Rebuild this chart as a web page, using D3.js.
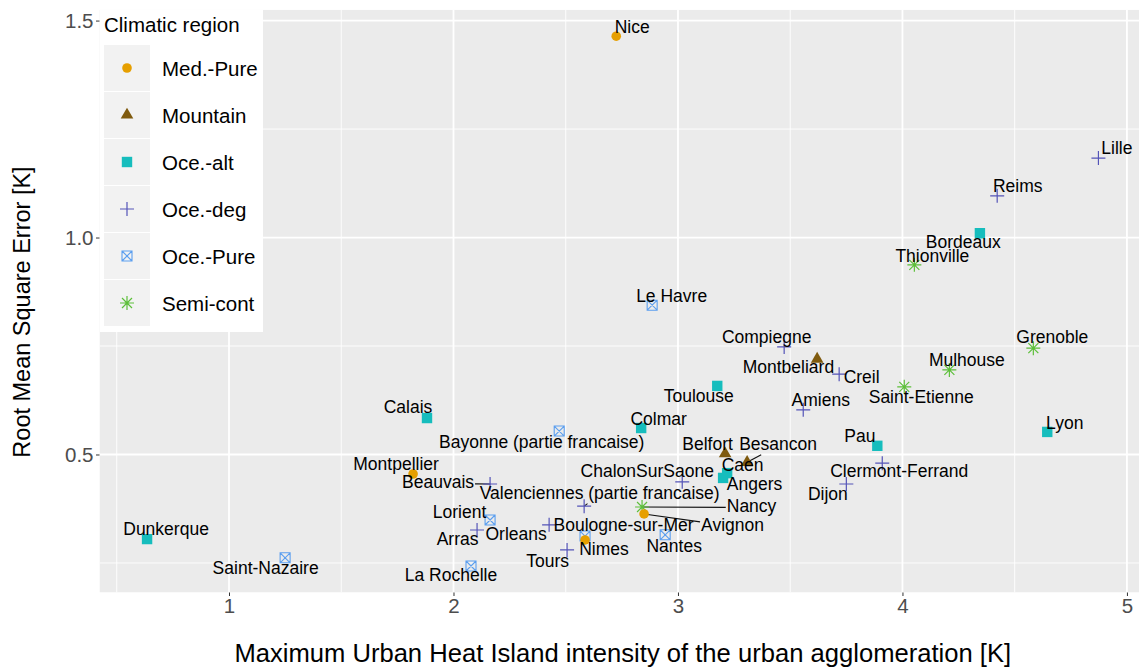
<!DOCTYPE html>
<html>
<head>
<meta charset="utf-8">
<script src="https://cdn.jsdelivr.net/npm/d3@7"></script>
<style>
  body { margin: 0; background: #ffffff; }
  svg text { font-family: "Liberation Sans", Arial, sans-serif; }
</style>
</head>
<body>
<svg id="chart" width="1139" height="667"></svg>
<script>
// ---- data -------------------------------------------------------------
const cityNames = [
  "Nice", "Lille", "Reims", "Bordeaux", "Thionville", "Le Havre", "Compiegne",
  "Montbeliard", "Grenoble", "Mulhouse", "Creil", "Saint-Etienne", "Toulouse",
  "Amiens", "Calais", "Bayonne (partie francaise)", "Colmar", "Lyon", "Pau",
  "Belfort", "Besancon", "Caen", "Angers", "Montpellier", "Clermont-Ferrand",
  "ChalonSurSaone", "Beauvais", "Dijon", "Valenciennes (partie francaise)",
  "Nancy", "Avignon", "Lorient", "Orleans", "Arras", "Nantes",
  "Boulogne-sur-Mer", "Nimes", "Tours", "Saint-Nazaire", "La Rochelle", "Dunkerque"
];
// Maximum urban heat island intensity [K]
const uhiMax = [
  2.725, 4.873, 4.422, 4.345, 4.053, 2.885, 3.473,
  3.620, 4.583, 4.209, 3.718, 4.008, 3.175,
  3.558, 1.882, 2.471, 2.836, 4.645, 3.888,
  3.210, 3.308, 3.219, 3.201, 1.820, 3.910,
  3.019, 2.163, 3.750, 2.582,
  2.840, 2.849, 2.163, 2.426, 2.105, 2.943,
  2.586, 2.586, 2.506, 1.250, 2.078, 0.635
];
// Root mean square error [K]
const rmse = [
  1.464, 1.183, 1.096, 1.010, 0.937, 0.844, 0.748,
  0.720, 0.745, 0.695, 0.685, 0.656, 0.658,
  0.603, 0.584, 0.554, 0.561, 0.552, 0.520,
  0.502, 0.482, 0.457, 0.446, 0.455, 0.480,
  0.437, 0.432, 0.432, 0.381,
  0.379, 0.363, 0.349, 0.338, 0.326, 0.315,
  0.312, 0.303, 0.280, 0.262, 0.243, 0.305
];
const climate = [
  "Med.-Pure", "Oce.-deg", "Oce.-deg", "Oce.-alt", "Semi-cont", "Oce.-Pure", "Oce.-deg",
  "Mountain", "Semi-cont", "Semi-cont", "Oce.-deg", "Semi-cont", "Oce.-alt",
  "Oce.-deg", "Oce.-alt", "Oce.-Pure", "Oce.-alt", "Oce.-alt", "Oce.-alt",
  "Mountain", "Mountain", "Oce.-alt", "Oce.-alt", "Med.-Pure", "Oce.-deg",
  "Oce.-deg", "Oce.-deg", "Oce.-deg", "Oce.-deg",
  "Semi-cont", "Med.-Pure", "Oce.-Pure", "Oce.-deg", "Oce.-deg", "Oce.-Pure",
  "Oce.-Pure", "Med.-Pure", "Oce.-deg", "Oce.-Pure", "Oce.-Pure", "Oce.-alt"
];
const regionNames = ["Med.-Pure", "Mountain", "Oce.-alt", "Oce.-deg", "Oce.-Pure", "Semi-cont"];
const xTicks = [1, 2, 3, 4, 5];
const yTicks = [0.5, 1.0, 1.5];

// ---- appearance ---------------------------------------------------------
const regionColors = ["#E69F00", "#7F5A0E", "#16BDBD", "#5454B8", "#5C9FEF", "#5DBF3A"];
const regionShapes = ["circle", "triangle", "square", "plus", "boxtimes", "asterisk"];

// Label placement (text centre / baseline relative to the point, px)
const labelOffset = {
  "Nice": [16, -3], "Lille": [18.5, -4], "Reims": [20.5, -4], "Bordeaux": [-16.7, 15],
  "Thionville": [18, -3], "Le Havre": [19.5, -3], "Compiegne": [-17.5, -4],
  "Montbeliard": [-28.7, 14], "Grenoble": [19, -5], "Mulhouse": [17.5, -4],
  "Creil": [22.5, 9], "Saint-Etienne": [17, 16], "Toulouse": [-18.5, 16],
  "Amiens": [17.5, -4], "Calais": [-19, -5], "Bayonne (partie francaise)": [-17.5, 17],
  "Colmar": [17.5, -3], "Lyon": [17.5, -3], "Pau": [-17.5, -4], "Belfort": [-17.5, -4],
  "Besancon": [31, -12], "Caen": [15.5, -2], "Angers": [31.5, 12], "Montpellier": [-17, -4],
  "Clermont-Ferrand": [17, 14], "ChalonSurSaone": [-35, -5], "Beauvais": [-52, 4],
  "Dijon": [-18.5, 16], "Valenciennes (partie francaise)": [15.5, -7],
  "Nancy": [109.5, 5], "Avignon": [88.5, 17], "Lorient": [-30.5, -2], "Orleans": [-33, 15],
  "Arras": [-19.5, 15], "Nantes": [9, 17], "Boulogne-sur-Mer": [38.5, -5], "Nimes": [19, 15],
  "Tours": [-19.5, 17], "Saint-Nazaire": [-19.5, 16], "La Rochelle": [-20, 15],
  "Dunkerque": [19, -4]
};
const withLeader = new Set(["Beauvais", "Besancon", "Valenciennes (partie francaise)", "Nancy", "Avignon"]);

const W = 1139, H = 667;
const panel = { left: 99.5, right: 1146, top: 9.7, bottom: 592.5 };
const labelFont = 17.5;

const svg = d3.select("#chart");

function expand(ext, f = 0.05) {
  const r = ext[1] - ext[0];
  return [ext[0] - r * f, ext[1] + r * f];
}

const x = d3.scaleLinear().domain(expand(d3.extent(uhiMax))).range([panel.left, panel.right]);
const y = d3.scaleLinear().domain(expand(d3.extent(rmse))).range([panel.bottom, panel.top]);
const color = d3.scaleOrdinal().domain(regionNames).range(regionColors);
const shape = d3.scaleOrdinal().domain(regionNames).range(regionShapes);

const points = cityNames.map((name, i) => ({
  name, ux: uhiMax[i], ry: rmse[i], region: climate[i]
}));

// ---- panel -------------------------------------------------------------
svg.append("defs").append("clipPath").attr("id", "panelClip")
  .append("rect")
  .attr("x", panel.left).attr("y", panel.top)
  .attr("width", panel.right - panel.left).attr("height", panel.bottom - panel.top);

const pg = svg.append("g").attr("clip-path", "url(#panelClip)");
pg.append("rect")
  .attr("x", panel.left).attr("y", panel.top)
  .attr("width", panel.right - panel.left).attr("height", panel.bottom - panel.top)
  .attr("fill", "#EBEBEB");

const xMinor = d3.range(0.5, 5.6, 1);
const yMinor = [0.25, 0.75, 1.25];
pg.selectAll(".xminor").data(xMinor).join("line")
  .attr("x1", d => x(d)).attr("x2", d => x(d))
  .attr("y1", panel.top).attr("y2", panel.bottom)
  .attr("stroke", "#fff").attr("stroke-width", 0.9);
pg.selectAll(".yminor").data(yMinor).join("line")
  .attr("y1", d => y(d)).attr("y2", d => y(d))
  .attr("x1", panel.left).attr("x2", panel.right)
  .attr("stroke", "#fff").attr("stroke-width", 0.9);
pg.selectAll(".xmajor").data(xTicks).join("line")
  .attr("x1", d => x(d)).attr("x2", d => x(d))
  .attr("y1", panel.top).attr("y2", panel.bottom)
  .attr("stroke", "#fff").attr("stroke-width", 1.8);
pg.selectAll(".ymajor").data(yTicks).join("line")
  .attr("y1", d => y(d)).attr("y2", d => y(d))
  .attr("x1", panel.left).attr("x2", panel.right)
  .attr("stroke", "#fff").attr("stroke-width", 1.8);

// ---- axes --------------------------------------------------------------
const xAxis = svg.append("g")
  .attr("transform", `translate(0,${panel.bottom})`)
  .call(d3.axisBottom(x).tickValues(xTicks).tickFormat(d3.format("d")).tickSize(3.5).tickPadding(2.5));
const yAxis = svg.append("g")
  .attr("transform", `translate(${panel.left},0)`)
  .call(d3.axisLeft(y).tickValues(yTicks).tickFormat(d3.format(".1f")).tickSize(3.5).tickPadding(2.5));
[xAxis, yAxis].forEach(g => {
  g.select(".domain").remove();
  g.selectAll(".tick line").attr("stroke", "#333333").attr("stroke-width", 1);
  g.selectAll(".tick text")
    .attr("fill", "#4D4D4D")
    .style("font-size", "20.5px")
    .style("font-family", "'Liberation Sans', Arial, sans-serif");
});
xAxis.selectAll(".tick text").attr("dy", "0.71em");

svg.append("text")
  .attr("x", (panel.left + panel.right) / 2).attr("y", 662)
  .attr("text-anchor", "middle")
  .attr("fill", "#000").style("font-size", "25.6px")
  .text("Maximum Urban Heat Island intensity of the urban agglomeration [K]");
svg.append("text")
  .attr("transform", "translate(30,312) rotate(-90)")
  .attr("text-anchor", "middle")
  .attr("fill", "#000").style("font-size", "23.5px")
  .text("Root Mean Square Error [K]");

// ---- point symbols -----------------------------------------------------
function symbolPath(kind) {
  const p = d3.path();
  switch (kind) {
    case "circle":
      p.arc(0, 0, 4.8, 0, 2 * Math.PI); break;
    case "triangle":
      p.moveTo(0, -7.2); p.lineTo(6.3, 3.6); p.lineTo(-6.3, 3.6); p.closePath(); break;
    case "square":
      p.rect(-5.2, -5.2, 10.4, 10.4); break;
    case "plus":
      p.moveTo(-7, 0); p.lineTo(7, 0); p.moveTo(0, -7); p.lineTo(0, 7); break;
    case "boxtimes":
      p.rect(-5, -5, 10, 10);
      p.moveTo(-5, -5); p.lineTo(5, 5); p.moveTo(5, -5); p.lineTo(-5, 5); break;
    case "asterisk":
      p.moveTo(-7, 0); p.lineTo(7, 0); p.moveTo(0, -7); p.lineTo(0, 7);
      p.moveTo(-5, -5); p.lineTo(5, 5); p.moveTo(5, -5); p.lineTo(-5, 5); break;
  }
  return p.toString();
}
const filled = k => k === "circle" || k === "triangle" || k === "square";

function drawSymbol(sel) {
  sel.attr("d", d => symbolPath(shape(d.region)))
    .attr("fill", d => filled(shape(d.region)) ? color(d.region) : "none")
    .attr("stroke", d => filled(shape(d.region)) ? "none" : color(d.region))
    .attr("stroke-width", d => shape(d.region) === "boxtimes" ? 1.1 : 1.2);
}

// ---- labels & leader segments -----------------------------------------
const measure = svg.append("text").style("font-size", labelFont + "px").attr("visibility", "hidden");
function textWidth(s) { measure.text(s); return measure.node().getComputedTextLength(); }

const labels = points.map(d => {
  const off = labelOffset[d.name];
  const px = x(d.ux), py = y(d.ry);
  const cx = px + off[0], by = py + off[1];
  const w = textWidth(d.name);
  const box = { x0: cx - w / 2 - 1, x1: cx + w / 2 + 1, y0: by - 13.5, y1: by + 4.5 };
  return { d, px, py, cx, by, box };
});
measure.remove();

// segment from the point toward the label centre, stopping at the label box
function leaderEnd(l) {
  const ccx = (l.box.x0 + l.box.x1) / 2, ccy = (l.box.y0 + l.box.y1) / 2;
  const dx = ccx - l.px, dy = ccy - l.py;
  const tY = dy > 0 ? (l.box.y0 - l.py) / dy : dy < 0 ? (l.box.y1 - l.py) / dy : -Infinity;
  const tX = dx > 0 ? (l.box.x0 - l.px) / dx : dx < 0 ? (l.box.x1 - l.px) / dx : -Infinity;
  const t = Math.max(0, Math.min(1, Math.max(tX, tY)));
  return [l.px + dx * t, l.py + dy * t];
}

pg.selectAll(".leader").data(labels.filter(l => withLeader.has(l.d.name))).join("line")
  .attr("x1", l => l.px).attr("y1", l => l.py)
  .attr("x2", l => leaderEnd(l)[0]).attr("y2", l => leaderEnd(l)[1])
  .attr("stroke", "#111").attr("stroke-width", 1.1);

pg.selectAll(".pt").data(points).join("path")
  .attr("transform", d => `translate(${x(d.ux)},${y(d.ry)})`)
  .call(drawSymbol);

pg.selectAll(".lbl").data(labels).join("text")
  .attr("x", l => l.cx).attr("y", l => l.by)
  .attr("text-anchor", "middle")
  .attr("fill", "#000")
  .style("font-size", labelFont + "px")
  .text(l => l.d.name);

// ---- legend ------------------------------------------------------------
const lg = svg.append("g");
lg.append("rect").attr("x", 100).attr("y", 10).attr("width", 163).attr("height", 322).attr("fill", "#fff");
lg.append("text").attr("x", 104).attr("y", 32).attr("fill", "#000")
  .style("font-size", "20.5px").text("Climatic region");
const items = lg.selectAll(".item").data(regionNames).join("g")
  .attr("transform", (d, i) => `translate(104,${45 + 47 * i})`);
items.append("rect").attr("width", 46).attr("height", 46).attr("fill", "#F2F2F2");
items.append("path")
  .datum(d => ({ region: d }))
  .attr("transform", "translate(23,23)")
  .call(drawSymbol);
items.append("text").attr("x", 58).attr("y", 30.5).attr("fill", "#000")
  .style("font-size", "20.5px").text(d => d);
</script>
</body>
</html>
